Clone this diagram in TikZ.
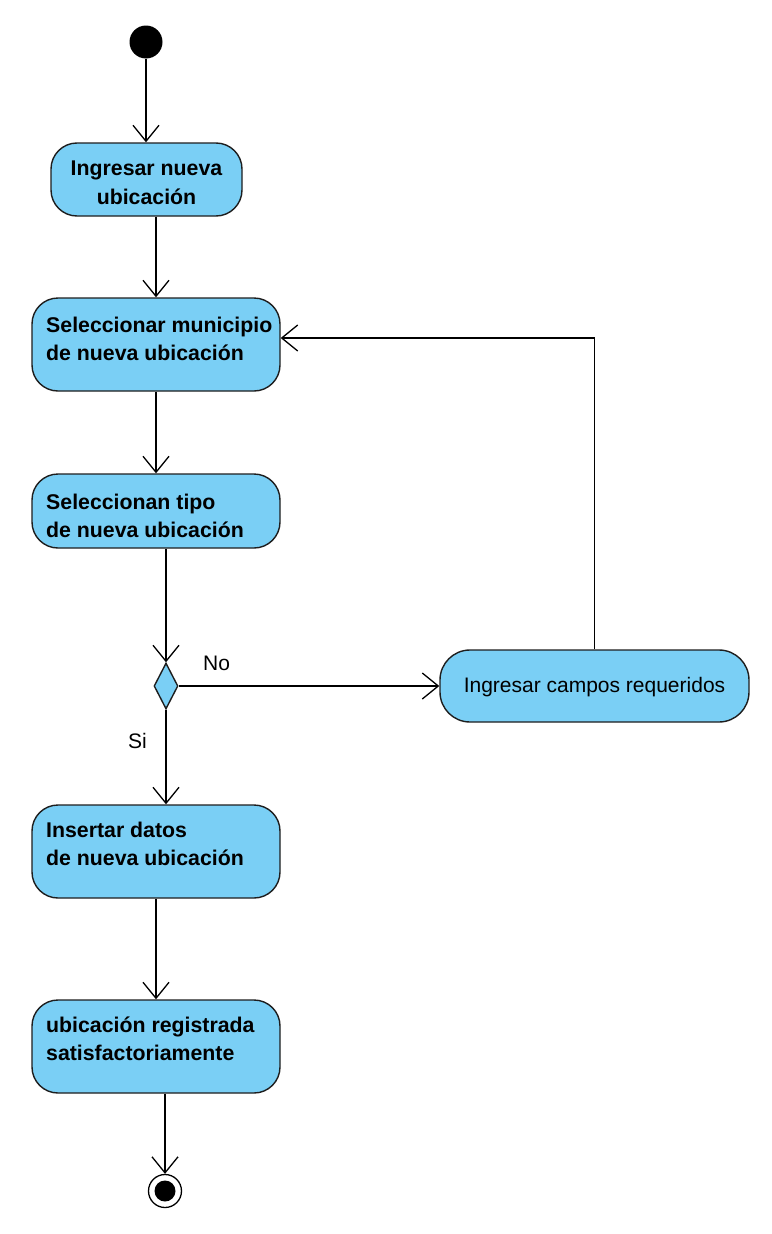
\documentclass[tikz,border=0pt]{standalone}
\usepackage{fontspec}
\setmainfont{Liberation Sans}
\usetikzlibrary{arrows.meta,shapes.geometric}
\definecolor{actfill}{RGB}{122,207,245}
\definecolor{actline}{RGB}{30,30,30}
\begin{document}
\begin{tikzpicture}[x=1pt,y=-1pt,
  act/.style={draw=actline,line width=1.4pt,fill=actfill,rounded corners=26pt,inner sep=0pt},
  lbl/.style={font=\fontsize{21.3}{28}\selectfont\bfseries,align=left,anchor=north west,inner sep=0pt},
  arr/.style={draw=black,line width=1.3pt,-{Straight Barb[length=16pt,width=26pt,line width=1.3pt]}},
  small/.style={font=\fontsize{21}{27}\selectfont,inner sep=0pt}]
\useasboundingbox[fill=white] (0,0) rectangle (771,1234);
% start
\node[circle,fill=black,minimum size=33pt,inner sep=0pt] (start) at (146,42) {};
% activities
\node[act,minimum width=191pt,minimum height=73pt] (b1) at (146.5,179.5) {};
\node[font=\fontsize{21.3}{29}\selectfont\bfseries,align=center,inner sep=0pt] at (146.5,183) {Ingresar nueva\\ubicación};
\node[act,minimum width=248pt,minimum height=93pt] (b2) at (156,344.5) {};
\node[lbl] at (46,317) {Seleccionar municipio\\de nueva ubicación};
\node[act,minimum width=248pt,minimum height=74pt] (b3) at (156,511) {};
\node[lbl] at (46,494) {Seleccionan tipo\\de nueva ubicación};
\node[diamond,draw=actline,line width=1.4pt,fill=actfill,minimum width=24pt,minimum height=46pt,inner sep=0pt] (dia) at (166,686) {};
\node[act,minimum width=309pt,minimum height=72pt,rounded corners=30pt] (b4) at (594.5,686) {};
\node[small] at (594.5,687) {Ingresar campos requeridos};
\node[act,minimum width=248pt,minimum height=93pt] (b5) at (156,851.5) {};
\node[lbl] at (46,822) {Insertar datos\\de nueva ubicación};
\node[act,minimum width=248pt,minimum height=93pt] (b6) at (156,1046.5) {};
\node[lbl] at (46,1017) {ubicación registrada\\satisfactoriamente};
% end
\node[circle,draw=black,line width=1.3pt,fill=white,minimum size=33pt,inner sep=0pt] (end) at (165,1191) {};
\node[circle,fill=black,minimum size=21pt,inner sep=0pt] (endin) at (165,1191) {};
% labels
\node[small,anchor=west] (no) at (203,663) {No};
\node[small,anchor=west] (si) at (128,741) {Si};
% connectors
\draw[arr] (start) -- (b1.north -| start);
\draw[arr] (b1.south -| b2.north) -- (b2.north);
\draw[arr] (b2) -- (b3);
\draw[arr] (b3.south -| dia.north) -- (dia.north);
\draw[arr] (dia.east) -- (b4.west);
\draw[arr] (dia.south) -- (b5.north -| dia.south);
\draw[arr] (b5) -- (b6);
\draw[arr] (b6.south -| end.north) -- (end.north);
\draw[arr] (b4.north) |- (b2.east |- 0,338);
\end{tikzpicture}
\end{document}
